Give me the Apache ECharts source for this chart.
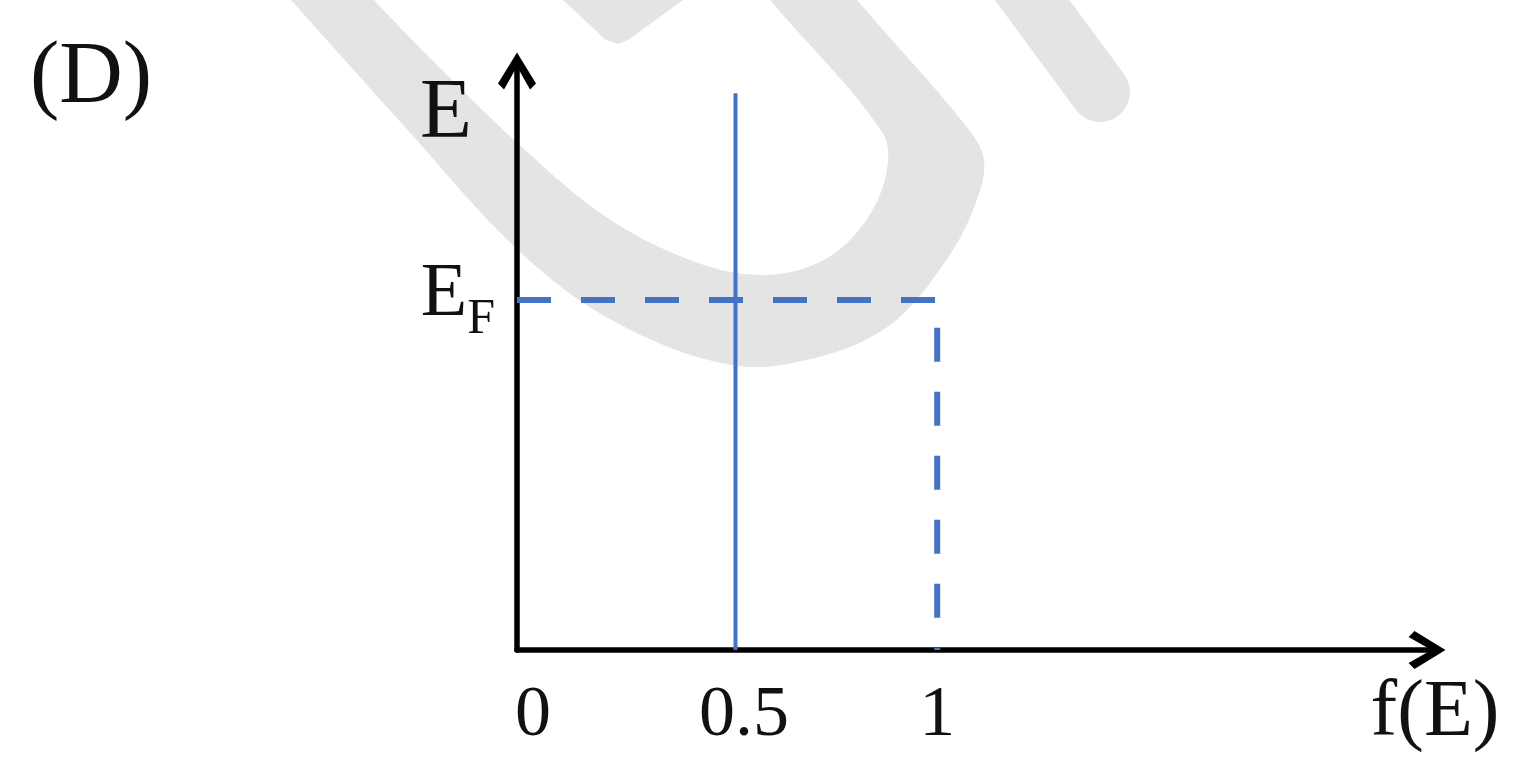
<!DOCTYPE html>
<html>
<head>
<meta charset="utf-8">
<title>f(E)</title>
<script src="https://cdn.jsdelivr.net/npm/echarts@6/dist/echarts.min.js"></script>
<style>
  html, body { margin: 0; padding: 0; background: #fff; }
  #main { width: 1535px; height: 765px; }
</style>
</head>
<body>
<div id="main"></div>
<script>
// data
var xTickValues = [0, 0.5, 1];
var xTickLabels = ['0', '0.5', '1'];
var yTickValues = [1];
var halfLine = [[0.52, 0], [0.52, 1.59]];   // the f(E) = 0.5 line, as drawn
var fermiEdge = [[0, 1], [1, 1], [1, 0]];   // E_F level and f = 1 guide

var serif = '"Liberation Serif", "Times New Roman", serif';
var blue = '#4472C4';
var mark = '#e4e4e4';
// open chevron arrow head, pointing up (echarts rotates it per axis)
var chevron = 'path://M19 0 L38 31 L32 37 L19 14 L6 37 L0 31 Z';

var chart = echarts.init(document.getElementById('main'));

var option = {
  animation: false,
  backgroundColor: '#fff',
  title: {
    text: '(D)',
    left: 30,
    top: 35,
    padding: 0,
    textStyle: { fontFamily: serif, fontSize: 88, fontWeight: 'normal', color: '#111' }
  },
  grid: { left: 517, right: 102, top: 65, bottom: 115 },
  graphic: [
    // faint watermark behind the chart
    {
      type: 'polygon', z: -10, silent: true,
      shape: {
        points: [
          [273, -20], [291, 0], [405, 127], [520, 252], [615, 322], [731, 365],
          [815, 358], [890, 325], [945, 262], [975, 205], [984, 160], [966, 126],
          [857, 0], [842, -20],
          [755, -20], [770, 0], [882, 132], [886, 175], [862, 226], [820, 262],
          [760, 275], [690, 260], [606, 217], [525, 150], [440, 68], [374, 0], [358, -20]
        ],
        smooth: 0.35
      },
      style: { fill: mark }
    },
    {
      type: 'polygon', z: -10, silent: true,
      shape: { points: [[563, 0], [683, 0], [628, 40], [618, 44], [606, 40]] },
      style: { fill: mark }
    },
    {
      type: 'line', z: -10, silent: true,
      shape: { x1: 1010, y1: -30, x2: 1100, y2: 92 },
      style: { stroke: mark, lineWidth: 60, lineCap: 'round' }
    }
  ],
  xAxis: {
    type: 'value',
    min: 0,
    max: 2.18,
    name: 'f(E)',
    nameLocation: 'end',
    nameGap: 2,
    nameTextStyle: {
      fontFamily: serif, fontSize: 80, color: '#111',
      align: 'center', verticalAlign: 'top', padding: [24, 0, 0, 0]
    },
    axisLine: {
      symbol: ['none', chevron],
      symbolSize: [38, 37],
      symbolOffset: [0, -6],
      lineStyle: { color: '#000', width: 5.5 }
    },
    axisTick: { show: false },
    splitLine: { show: false },
    axisLabel: {
      customValues: xTickValues,
      margin: 30,
      formatter: function (v) {
        var i = xTickValues.indexOf(v);
        return '{t' + i + '|' + xTickLabels[i] + '}';
      },
      rich: {
        t0: { fontFamily: serif, fontSize: 72, color: '#111', padding: [0, 0, 0, 32] },
        t1: { fontFamily: serif, fontSize: 72, color: '#111', padding: [0, 0, 0, 34] },
        t2: { fontFamily: serif, fontSize: 72, color: '#111', padding: [0, 0, 0, 0] }
      }
    }
  },
  yAxis: {
    type: 'value',
    min: 0,
    max: 1.671,
    name: 'E',
    nameLocation: 'end',
    nameGap: -50,
    nameTextStyle: {
      fontFamily: serif, fontSize: 85, color: '#111',
      align: 'right', verticalAlign: 'middle', padding: [0, 45, 0, 0]
    },
    axisLine: {
      symbol: ['none', chevron],
      symbolSize: [38, 37],
      symbolOffset: [0, -6],
      lineStyle: { color: '#000', width: 5.5 }
    },
    axisTick: { show: false },
    splitLine: { show: false },
    axisLabel: {
      customValues: yTickValues,
      margin: 22,
      padding: [0, 0, 10, 0],
      formatter: function () { return '{e|E}{f|F}'; },
      rich: {
        e: { fontFamily: serif, fontSize: 76, lineHeight: 100, color: '#111' },
        f: { fontFamily: serif, fontSize: 50, lineHeight: 28, verticalAlign: 'bottom', color: '#111' }
      }
    }
  },
  series: [
    {
      name: 'f = 0.5',
      type: 'line',
      data: halfLine,
      symbol: 'none',
      lineStyle: { color: blue, width: 4 }
    },
    {
      name: 'E_F',
      type: 'line',
      data: fermiEdge,
      symbol: 'none',
      lineStyle: { color: blue, width: 6, type: [34, 30] }
    }
  ]
};

chart.setOption(option);
</script>
</body>
</html>
